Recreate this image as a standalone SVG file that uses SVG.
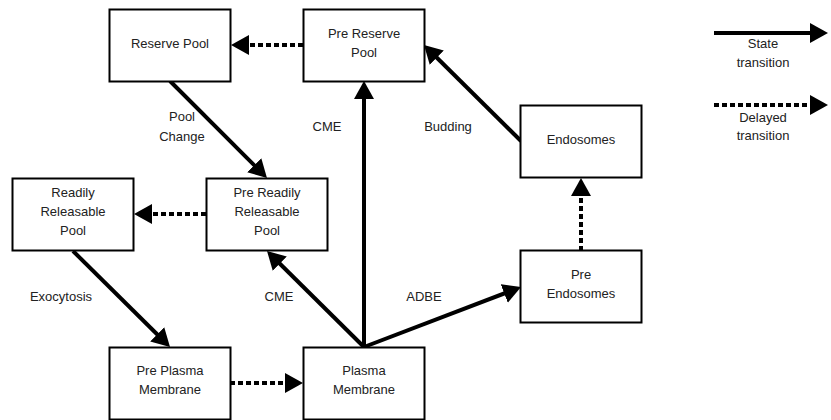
<svg xmlns="http://www.w3.org/2000/svg" width="831" height="420" viewBox="0 0 831 420">
<defs>
<marker id="ah" viewBox="0 0 18 20" refX="8" refY="10" markerWidth="18" markerHeight="20" markerUnits="userSpaceOnUse" orient="auto">
<path d="M0,0 L18,10 L0,20 z" fill="#000"/>
</marker>
<style>
.box{fill:#fff;stroke:#000;stroke-width:2}
text{font-family:"Liberation Sans",Arial,sans-serif;font-size:13px;fill:#222;text-anchor:middle}
.s{fill:none;stroke:#000;stroke-width:4;marker-end:url(#ah)}
.d{fill:none;stroke:#000;stroke-width:4;stroke-dasharray:5 3;marker-end:url(#ah)}
</style>
</defs>
<rect width="831" height="420" fill="#fff"/>
<g id="connectors">
<line class="d" x1="303" y1="45" x2="241" y2="45"/>
<line class="s" x1="170" y1="81" x2="259.9" y2="170.9"/>
<line class="d" x1="206" y1="214" x2="144" y2="214"/>
<line class="s" x1="73" y1="251" x2="162.9" y2="340"/>
<line class="d" x1="230" y1="383" x2="293" y2="383"/>
<line class="s" x1="364" y1="347" x2="364" y2="91"/>
<line class="s" x1="364" y1="347" x2="274.1" y2="258"/>
<line class="s" x1="364" y1="347" x2="511.7" y2="290.6"/>
<line class="d" x1="581" y1="251" x2="581" y2="188"/>
<line class="s" x1="521" y1="141" x2="431.1" y2="52"/>
<line class="s" x1="714" y1="33" x2="818" y2="33"/>
<line class="d" x1="714" y1="105" x2="818" y2="105"/>
</g>
<g id="labels">
<text x="182" y="121">Pool</text>
<text x="182" y="141">Change</text>
<text x="327" y="131">CME</text>
<text x="448" y="131">Budding</text>
<text x="61" y="301">Exocytosis</text>
<text x="279" y="301">CME</text>
<text x="424" y="301">ADBE</text>
<text x="763" y="48">State</text>
<text x="763" y="67">transition</text>
<text x="763" y="122">Delayed</text>
<text x="763" y="140">transition</text>
</g>
<g id="reserve-pool">
<rect class="box" x="109.5" y="9.5" width="121" height="72"/>
<text x="170" y="48">Reserve Pool</text>
</g>
<g id="pre-reserve-pool">
<rect class="box" x="303.5" y="9.5" width="121" height="72"/>
<text x="364" y="38">Pre Reserve</text>
<text x="364" y="57">Pool</text>
</g>
<g id="readily-releasable-pool">
<rect class="box" x="12.5" y="178.5" width="121" height="72"/>
<text x="73" y="197">Readily</text>
<text x="73" y="216">Releasable</text>
<text x="73" y="235">Pool</text>
</g>
<g id="pre-readily-releasable-pool">
<rect class="box" x="206.5" y="178.5" width="121" height="72"/>
<text x="267" y="197">Pre Readily</text>
<text x="267" y="216">Releasable</text>
<text x="267" y="235">Pool</text>
</g>
<g id="pre-plasma-membrane">
<rect class="box" x="109.5" y="347.5" width="121" height="72"/>
<text x="170" y="375">Pre Plasma</text>
<text x="170" y="394">Membrane</text>
</g>
<g id="plasma-membrane">
<rect class="box" x="303.5" y="347.5" width="121" height="72"/>
<text x="364" y="375">Plasma</text>
<text x="364" y="394">Membrane</text>
</g>
<g id="endosomes">
<rect class="box" x="520.5" y="105.5" width="121" height="72"/>
<text x="581" y="144">Endosomes</text>
</g>
<g id="pre-endosomes">
<rect class="box" x="520.5" y="250.5" width="121" height="72"/>
<text x="581" y="279">Pre</text>
<text x="581" y="298">Endosomes</text>
</g>
</svg>
